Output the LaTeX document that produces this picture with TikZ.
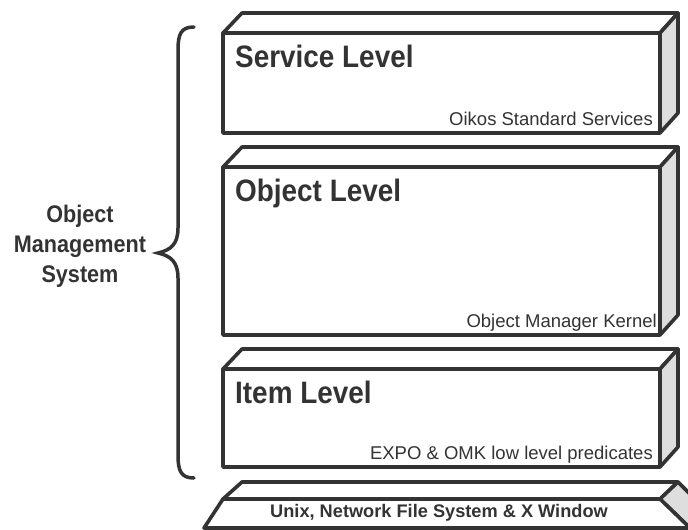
\documentclass[tikz,border=0pt]{standalone}
\usepackage{fontspec}
\setmainfont{Liberation Sans}
\newfontfamily\narrowfont[FakeStretch=0.9]{Liberation Sans}
\definecolor{ink}{RGB}{51,51,51}
\tikzset{
  levelbox/.style={draw=ink,line width=3.6pt,line join=round,outer sep=0pt,minimum width=437,fill=white},
  face/.style={draw=ink,line width=3.6pt,line join=round,fill=white},
  sideface/.style={draw=ink,line width=3.6pt,line join=round,fill=black!13},
  leveltitle/.style={font=\narrowfont\bfseries\fontsize{31}{36}\selectfont,text=ink,inner sep=0pt,anchor=base west},
  levelnote/.style={font=\fontsize{18.5}{20}\selectfont,text=ink,inner sep=0pt,anchor=base east},
}
\begin{document}
\begin{tikzpicture}[x=1pt,y=-1pt]
\useasboundingbox (0,0) rectangle (688,530);
%
\node[levelbox,minimum height=100] (service) at (441.5,83) {};
\node[levelbox,minimum height=168] (object) at (441.5,251) {};
\node[levelbox,minimum height=98] (item) at (441.5,418) {};
%
\foreach \b in {service,object,item}{
  \filldraw[face] (\b.north west)--([shift={(19,-20)}]\b.north west)--([shift={(18,-20)}]\b.north east)--(\b.north east)--cycle;
  \filldraw[sideface] (\b.north east)--([shift={(18,-20)}]\b.north east)--([shift={(18,-20)}]\b.south east)--(\b.south east)--cycle;
}
%
\node[leveltitle] (servicetitle) at ([shift={(12,34)}]service.north west) {Service Level};
\node[levelnote] (servicenote) at ([shift={(-7,-8)}]service.south east) {Oikos Standard Services};
\node[leveltitle] (objecttitle) at ([shift={(12,34)}]object.north west) {Object Level};
\node[levelnote] (objectnote) at ([shift={(-3,-8)}]object.south east) {Object Manager Kernel};
\node[leveltitle] (itemtitle) at ([shift={(12,34)}]item.north west) {Item Level};
\node[levelnote] (itemnote) at ([shift={(-7,-8)}]item.south east) {EXPO \& OMK low level predicates};
%
% platform
\filldraw[face] (223,499)--(242,482)--(678,482)--(660,499)--cycle;
\filldraw[sideface] (660,499)--(678,482)--(706,510)--(690,528)--cycle;
\filldraw[face] (223,499)--(660,499)--(690,528)--(204,528)--cycle;
\node[font=\bfseries\fontsize{18.2}{20}\selectfont,text=ink,inner sep=0pt,anchor=base] (platform) at (439,517) {Unix, Network File System \& X Window};
%
% brace
\draw[ink,line width=3.5pt,line cap=round] (194,27) .. controls (181,27) and (178,34) .. (178,50)--(178,228)
  .. controls (178,244) and (171,250) .. (158,253) .. controls (171,256) and (178,262) .. (178,278)--(178,455)
  .. controls (178,471) and (181,478) .. (194,478);
\node[font=\narrowfont\bfseries\fontsize{24}{30}\selectfont,text=ink,align=center] (oms) at (80,246) {Object\\Management\\System};
\end{tikzpicture}
\end{document}
